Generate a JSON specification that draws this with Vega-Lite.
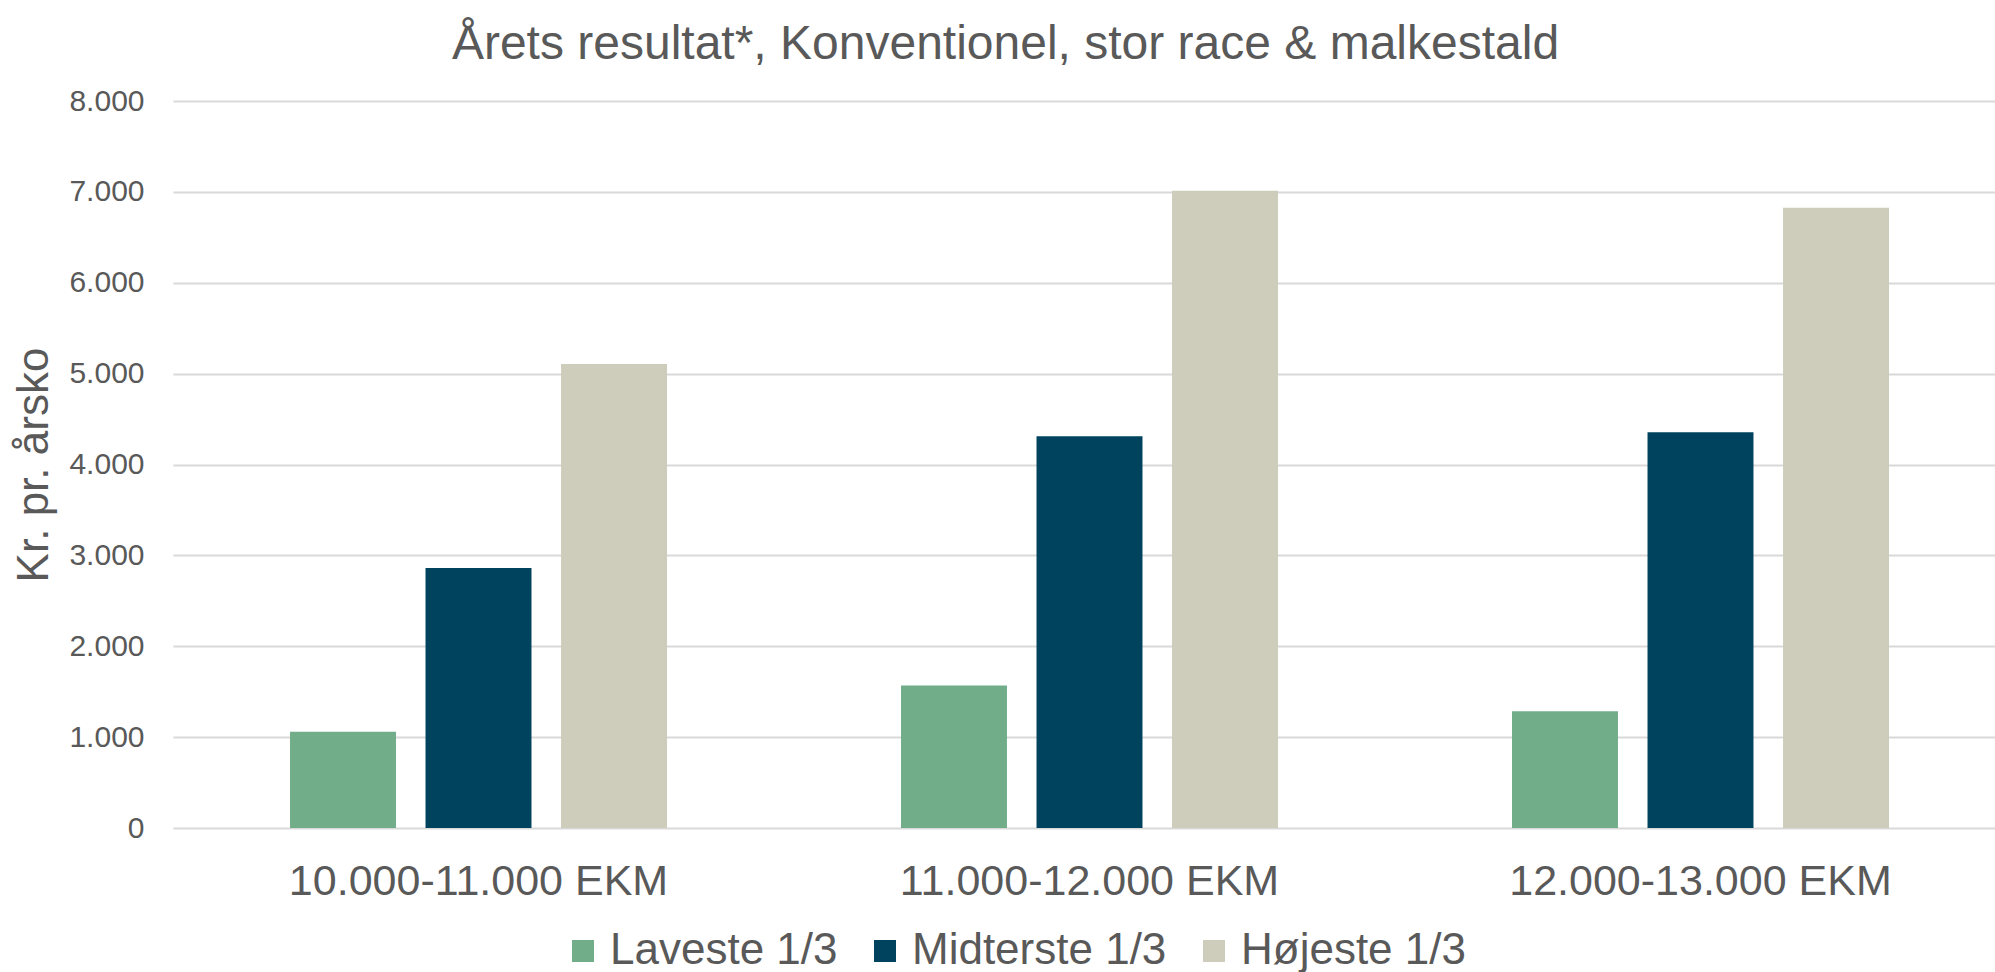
{
  "$schema": "https://vega.github.io/schema/vega-lite/v6.json",
  "width": 1833,
  "height": 727,
  "autosize": {"type": "none"},
  "padding": {"left": 173, "top": 101, "right": -11, "bottom": 144},
  "background": "white",
  "title": {
    "text": "Årets resultat*, Konventionel, stor race & malkestald",
    "fontSize": 48,
    "font": "Liberation Sans",
    "fontWeight": "normal",
    "color": "#595959",
    "anchor": "middle",
    "dx": -84,
    "baseline": "alphabetic",
    "offset": -21
  },
  "data": {
    "values": [
      {"gruppe": "10.000-11.000 EKM", "serie": "Laveste 1/3", "vaerdi": 1060},
      {"gruppe": "10.000-11.000 EKM", "serie": "Midterste 1/3", "vaerdi": 2860},
      {"gruppe": "10.000-11.000 EKM", "serie": "Højeste 1/3", "vaerdi": 5105},
      {"gruppe": "11.000-12.000 EKM", "serie": "Laveste 1/3", "vaerdi": 1567},
      {"gruppe": "11.000-12.000 EKM", "serie": "Midterste 1/3", "vaerdi": 4310},
      {"gruppe": "11.000-12.000 EKM", "serie": "Højeste 1/3", "vaerdi": 7012},
      {"gruppe": "12.000-13.000 EKM", "serie": "Laveste 1/3", "vaerdi": 1285},
      {"gruppe": "12.000-13.000 EKM", "serie": "Midterste 1/3", "vaerdi": 4355},
      {"gruppe": "12.000-13.000 EKM", "serie": "Højeste 1/3", "vaerdi": 6825}
    ]
  },
  "mark": {"type": "bar"},
  "encoding": {
    "x": {
      "field": "gruppe",
      "type": "nominal",
      "sort": null,
      "scale": {"paddingInner": 0, "paddingOuter": 0},
      "axis": {
        "title": null,
        "labelAngle": 0,
        "labelFontSize": 43,
        "labelFont": "Liberation Sans",
        "labelColor": "#595959",
        "labelPadding": 32,
        "labelBaseline": "top",
        "labelLimit": 0,
        "ticks": false,
        "domain": false,
        "grid": false
      }
    },
    "xOffset": {
      "field": "serie",
      "type": "nominal",
      "sort": ["Laveste 1/3", "Midterste 1/3", "Højeste 1/3"],
      "scale": {"paddingInner": 0.218, "paddingOuter": 0.8635}
    },
    "y": {
      "field": "vaerdi",
      "type": "quantitative",
      "scale": {"domain": [0, 8000], "nice": false},
      "axis": {
        "title": "Kr. pr. årsko",
        "titleFontSize": 44,
        "titleFont": "Liberation Sans",
        "titleFontWeight": "normal",
        "titleColor": "#595959",
        "titleX": -139,
        "titleY": 363.5,
        "titleAngle": -90,
        "titleAlign": "center",
        "titleBaseline": "middle",
        "values": [0, 1000, 2000, 3000, 4000, 5000, 6000, 7000, 8000],
        "labelExpr": "replace(format(datum.value, ','), ',', '.')",
        "labelFontSize": 30,
        "labelFont": "Liberation Sans",
        "labelColor": "#595959",
        "labelPadding": 29,
        "ticks": false,
        "domain": false,
        "grid": true,
        "gridColor": "#D9D9D9",
        "gridWidth": 2
      }
    },
    "color": {
      "field": "serie",
      "type": "nominal",
      "sort": ["Laveste 1/3", "Midterste 1/3", "Højeste 1/3"],
      "scale": {
        "domain": ["Laveste 1/3", "Midterste 1/3", "Højeste 1/3"],
        "range": ["#72AD8A", "#00435E", "#CECDBB"]
      },
      "legend": {
        "title": null,
        "orient": "none",
        "direction": "horizontal",
        "legendX": 388,
        "legendY": 828,
        "symbolType": "square",
        "symbolSize": 484,
        "symbolStrokeWidth": 0,
        "labelFontSize": 44,
        "labelFont": "Liberation Sans",
        "labelColor": "#595959",
        "labelOffset": 5,
        "labelLimit": 0,
        "columnPadding": 25,
        "padding": 0
      }
    }
  },
  "config": {
    "view": {"stroke": null},
    "font": "Liberation Sans"
  }
}
